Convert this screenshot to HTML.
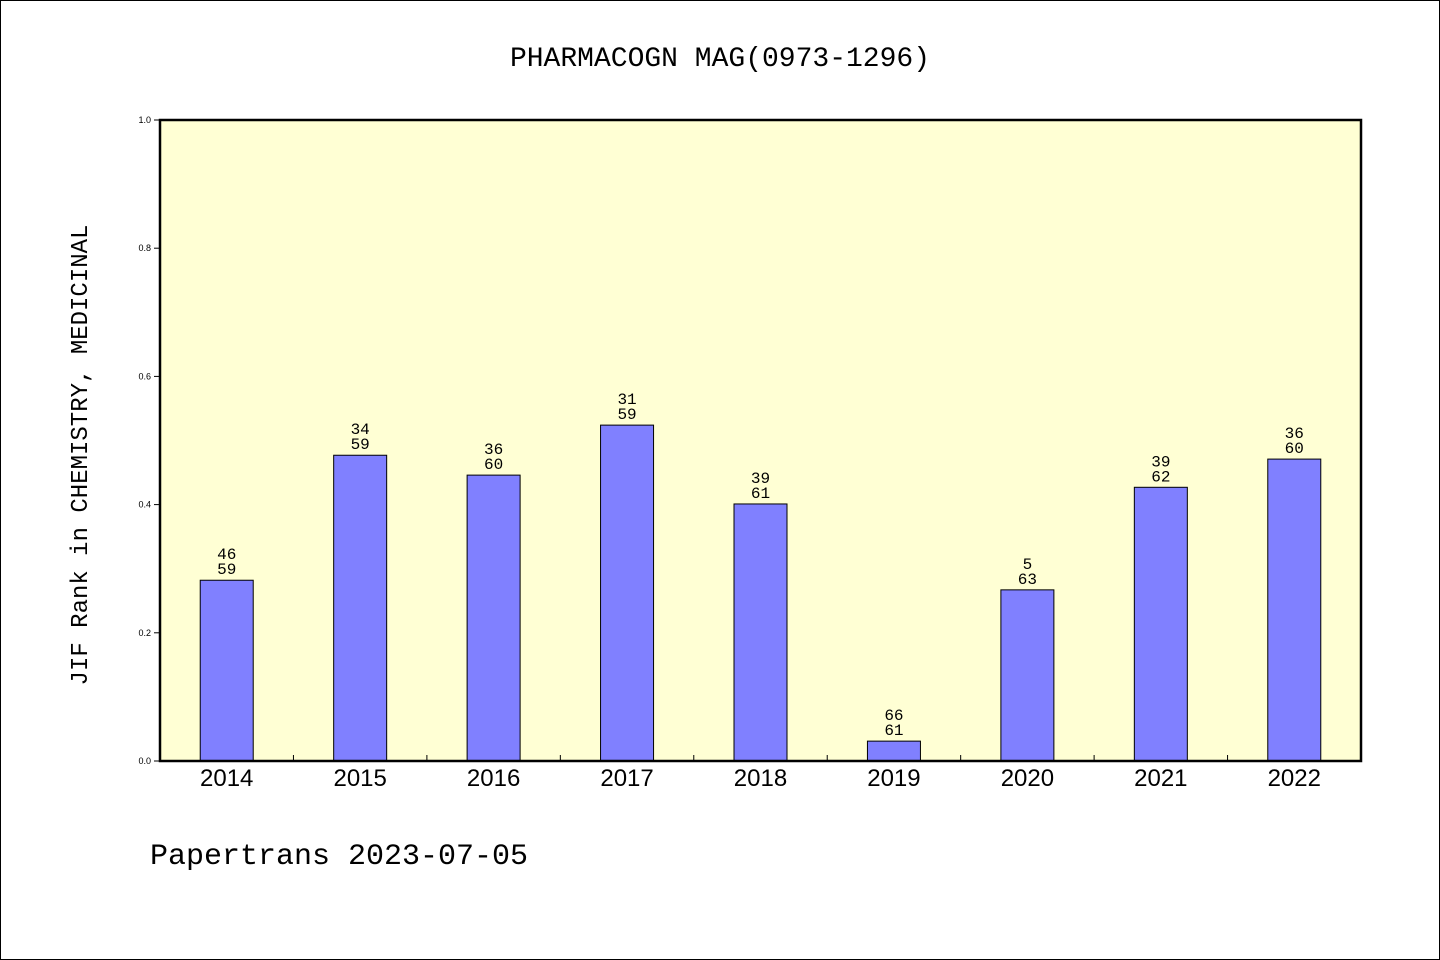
<!DOCTYPE html>
<html><head><meta charset="utf-8"><style>
html,body{margin:0;padding:0;background:#fff;}
svg{display:block;}
text{font-family:"Liberation Sans","WenQuanYi Zen Hei",sans-serif;}
.mono{font-family:"WenQuanYi Zen Hei","Liberation Mono",monospace;}
</style></head><body>
<svg id="chart" width="1440" height="960">
<rect x="0.5" y="0.5" width="1439" height="959" fill="#fff" stroke="#000"/>
<text class="mono" x="720" y="66" font-size="28" text-anchor="middle">PHARMACOGN MAG(0973-1296)</text>
<rect x="160" y="120" width="1201" height="641" fill="#ffffd4"/>
<g id="bars"></g>
<rect x="160" y="120" width="1201" height="641" fill="none" stroke="#000" stroke-width="2.5"/>
<text class="mono" transform="translate(87,455) rotate(-90)" font-size="24" text-anchor="middle">JIF Rank in CHEMISTRY, MEDICINAL</text>
<text class="mono" x="150" y="864" font-size="30">Papertrans 2023-07-05</text>
</svg>
<script>
const categories=["2014","2015","2016","2017","2018","2019","2020","2021","2022"];
const values=[0.282,0.477,0.446,0.524,0.401,0.031,0.267,0.427,0.471];
const ranks=["46","34","36","31","39","66","5","39","36"];
const totals=["59","59","60","59","61","61","63","62","60"];
const yTicks=[0,0.2,0.4,0.6,0.8,1.0];
const yTickLabels=["0.0","0.2","0.4","0.6","0.8","1.0"];
const NS="http://www.w3.org/2000/svg";
const svg=document.getElementById('chart');
const g=document.getElementById('bars');
const X0=160,W=1201,Y0=761,H=641;
const band=W/categories.length;
const xC=i=>X0+band*(i+0.5);
const y=v=>Y0-v*H;
function mk(t,a,p){const e=document.createElementNS(NS,t);for(const k in a)e.setAttribute(k,a[k]);(p||svg).appendChild(e);return e;}
yTicks.forEach((v,i)=>{
  const t=mk('line',{x1:X0-6,x2:X0,y1:y(v),y2:y(v),stroke:'#000'});
  
  
  const l=mk('text',{x:X0-9,y:y(v)+3,'font-size':9,'text-anchor':'end'});
  l.textContent=yTickLabels[i];
  
  
});
for(let i=1;i<categories.length;i++){
  const t=mk('line',{x1:X0+band*i,x2:X0+band*i,y1:Y0-6,y2:Y0,stroke:'#000'});
  
  
}
categories.forEach((c,i)=>{
  const bw=53;
  const r=mk('rect',{x:xC(i)-bw/2,y:y(values[i]),width:bw,height:values[i]*H,fill:'#8080ff',stroke:'#000','stroke-width':1},g);
  
  
  const a=mk('text',{x:xC(i),y:y(values[i])-21,'font-size':16,'text-anchor':'middle',class:'mono'});
  a.textContent=ranks[i];
  
  
  const b=mk('text',{x:xC(i),y:y(values[i])-6,'font-size':16,'text-anchor':'middle',class:'mono'});
  b.textContent=totals[i];
  
  
  const l=mk('text',{x:xC(i),y:Y0+25,'font-size':24,'text-anchor':'middle'});
  l.textContent=c;
  
  
});
</script>
</body></html>
